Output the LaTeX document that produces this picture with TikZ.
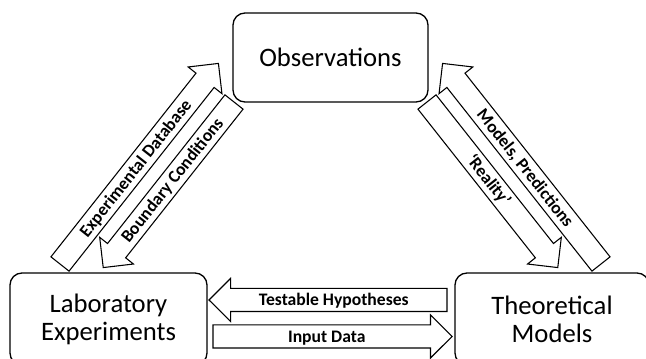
\documentclass[tikz,border=0pt]{standalone}
\usepackage{fontspec}
\setmainfont{Carlito}
\usetikzlibrary{shapes.arrows}

\begin{document}
\begin{tikzpicture}[x=0.75pt, y=-0.75pt,
    box/.style={draw, line width=1pt, rounded corners=9pt, align=center, inner sep=0pt,
        font=\fontsize{20pt}{21pt}\selectfont},
    fat/.style={single arrow, draw, line width=0.8pt, anchor=tail, outer sep=0pt,
        minimum width=31.5pt, single arrow head extend=7.5pt,
        inner ysep=2.25pt, text height=10.2pt, text depth=1.8pt,
        font=\bfseries\fontsize{13.2pt}{15pt}\selectfont},
    back/.style={shape border rotate=180}]
    \clip (0,0) rectangle (646,359);

    % Boxes
    \node[box, minimum width=146.25pt, minimum height=66.75pt] (obs) at (330.5,57.5) {Observations};
    \node[box, minimum width=147.75pt, minimum height=69pt] (lab) at (108.5,319) {Laboratory\\Experiments};
    \node[box, minimum width=145.5pt, minimum height=69pt] (theory) at (552,319) {Theoretical\\Models};

    % Left pair
    \node[fat, rotate=51.7, minimum height=191.7pt] (database) at (60,264) {Experimental Database};
    \node[fat, back, rotate=51.7, minimum height=158.25pt] (boundary) at (234,102) {Boundary Conditions};

    % Right pair
    \node[fat, back, rotate=-51.7, minimum height=191.7pt] (predictions) at (601,264) {Models, Predictions};
    \node[fat, rotate=-51.7, minimum height=158.25pt] (reality) at (427,102) {`Reality'};

    % Bottom pair
    \node[fat, back, minimum height=178.5pt] (hypotheses) at (447,300) {Testable Hypotheses};
    \node[fat, minimum height=179.25pt] (input) at (213,336.5) {Input Data};
\end{tikzpicture}
\end{document}
